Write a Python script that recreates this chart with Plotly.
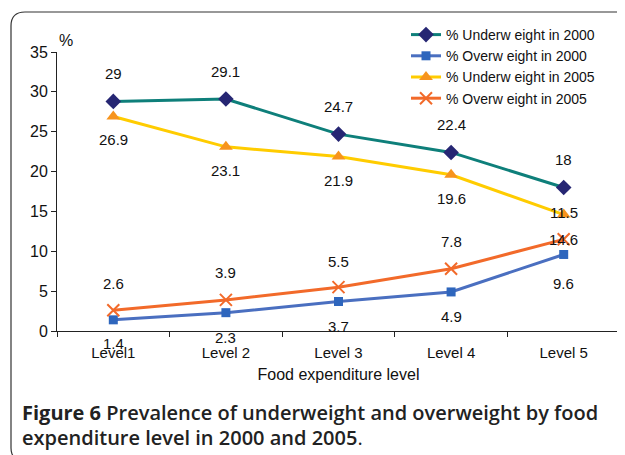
import plotly.graph_objects as go

levels = ["Level1", "Level 2", "Level 3", "Level 4", "Level 5"]
uw2000 = [28.8, 29.1, 24.7, 22.4, 18.0]
ow2000 = [1.4, 2.3, 3.7, 4.9, 9.6]
uw2005 = [26.9, 23.1, 21.9, 19.6, 14.6]
ow2005 = [2.6, 3.9, 5.5, 7.8, 11.5]

uw2000_lbl = ["29", "29.1", "24.7", "22.4", "18"]
ow2000_lbl = ["1.4", "2.3", "3.7", "4.9", "9.6"]
uw2005_lbl = ["26.9", "23.1", "21.9", "19.6", "11.5"]
ow2005_lbl = ["2.6", "3.9", "5.5", "7.8", "14.6"]

yticks = [0, 5, 10, 15, 20, 25, 30, 35]

W, H = 625, 455
OFF = 8  # default page body margin
# plot area in page pixels
PL, PR, PT, PB = 57, 620, 52, 331
L, T = PL - OFF, PT - OFF
R, B = W - (PR - OFF), H - (PB - OFF)
PW, PH = PR - PL, PB - PT


def px(x):
    return (x - PL) / PW


def py(y):
    return (PB - y) / PH


series = [
    ("% Underw eight in 2000", uw2000, "#0E7F7A", "#262673", "diamond", 12),
    ("% Overw eight in 2000", ow2000, "#4A6FC0", "#2E66BD", "square", 9),
    ("% Underw eight in 2005", uw2005, "#FFCC00", "#F7941D", "triangle-up", 12),
    ("% Overw eight in 2005", ow2005, "#F26A2A", "#F26A2A", "x-thin-open", 12),
]

fig = go.Figure()
for name, vals, lc, mc, sym, sz in series:
    fig.add_trace(go.Scatter(
        x=levels, y=vals, name=name, mode="lines+markers",
        line=dict(color=lc, width=3),
        marker=dict(symbol=sym, size=sz, color=mc,
                    line=dict(color=mc, width=2 if sym.startswith("x") else 0)),
    ))

label_sets = [
    (uw2000, uw2000_lbl, [28, 28, 28, 28, 28]),
    (ow2000, ow2000_lbl, [-24, -25, -25, -25, -29]),
    (uw2005, uw2005_lbl, [-23, -24, -24, -24, 2]),
    (ow2005, ow2005_lbl, [27, 27, 26, 27, 0]),
]
for vals, lbls, shifts in label_sets:
    for lev, v, t, s in zip(levels, vals, lbls, shifts):
        fig.add_annotation(x=lev, y=v, text=t, showarrow=False, yshift=s,
                           font=dict(family="Liberation Sans, Arial", size=15, color="#111"))

# % unit label
fig.add_annotation(xref="paper", yref="paper", x=px(57), y=py(40), text="%",
                   showarrow=False, xanchor="left", yanchor="middle",
                   font=dict(family="Liberation Sans, Arial", size=16, color="#111"))

# caption
cap_font = dict(family="Open Sans", size=20, color="#222")
fig.add_annotation(xref="paper", yref="paper", x=px(20), y=py(413),
                   text="<b>Figure 6</b> <span style='font-weight:600'>Prevalence of underweight and overweight by food</span>",
                   showarrow=False, xanchor="left", yanchor="middle", font=cap_font)
fig.add_annotation(xref="paper", yref="paper", x=px(20), y=py(437),
                   text="<span style='font-weight:600'>expenditure level in 2000 and 2005</span>.",
                   showarrow=False, xanchor="left", yanchor="middle", font=cap_font)

# frame
r = 14
x0, y0 = 11, 12
path = (f"M {px(W + 20)},{py(y0)} L {px(x0 + r)},{py(y0)} "
        f"Q {px(x0)},{py(y0)} {px(x0)},{py(y0 + r)} "
        f"L {px(x0)},{py(448)} Q {px(x0)},{py(455)} {px(x0 + 4)},{py(458)}")
fig.add_shape(type="path", path=path, xref="paper", yref="paper",
              line=dict(color="#333", width=1.2))

fig.update_layout(
    width=W, height=H,
    margin=dict(l=L, r=R, t=T, b=B, autoexpand=False),
    paper_bgcolor="white", plot_bgcolor="white",
    font=dict(family="Liberation Sans, Arial", size=15, color="#111"),
    showlegend=True,
    legend=dict(x=px(406), y=py(19), xanchor="left", yanchor="top",
                bgcolor="rgba(0,0,0,0)", font=dict(size=14),
                tracegroupgap=0, itemwidth=30),
    xaxis=dict(type="category", range=[-0.5, 4.5], showline=True, linecolor="#222",
               linewidth=1, ticks="outside", tickson="boundaries", ticklen=5,
               tickcolor="#222", showgrid=False, zeroline=False,
               ticklabelstandoff=8, automargin=False,
               title=dict(text="Food expenditure level", standoff=8,
                          font=dict(size=16)),
               tickfont=dict(size=15)),
    yaxis=dict(range=[0, 35], tickvals=yticks, showline=True, linecolor="#222",
               linewidth=1, ticks="outside", ticklen=5, tickcolor="#222",
               showgrid=False, zeroline=False, tickfont=dict(size=16),
               automargin=False),
)

fig.write_html("out.html")
